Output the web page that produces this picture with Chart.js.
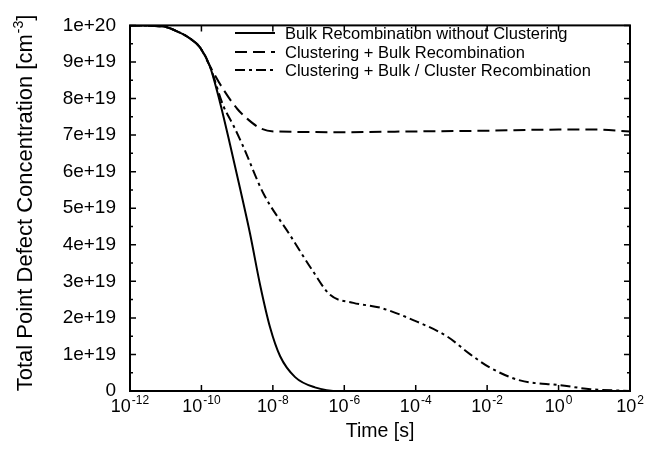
<!DOCTYPE html>
<html>
<head>
<meta charset="utf-8">
<script src="https://cdn.jsdelivr.net/npm/chart.js@4.4.1/dist/chart.umd.min.js"></script>
<style>
  html, body { margin: 0; padding: 0; background: #fff; }
  #wrap { width: 647px; height: 449px; position: relative; }
</style>
</head>
<body>
<div id="wrap"><canvas id="defect-chart"></canvas></div>
<script>
// time in seconds, concentration in cm^-3
const bulkTime = [1e-12, 8.3e-12, 2.5e-11, 4.8e-11, 9.1e-11, 1.7e-10, 3.3e-10, 6.3e-10, 1.2e-9, 2.3e-9, 4.4e-9, 8.3e-9, 1.6e-8, 4.2e-8, 1.5e-7, 7.6e-7, 1e-5, 1e2];
const bulkConc = [1e20, 9.97e19, 9.8e19, 9.64e19, 9.4e19, 8.9e19, 7.9e19, 6.75e19, 5.55e19, 4.3e19, 2.9e19, 1.75e19, 0.95e19, 0.38e19, 0.1e19, 0, 0, 0];

const clusterTime = [1e-12, 8.3e-12, 2.5e-11, 4.8e-11, 9.1e-11, 1.7e-10, 4.1e-10, 1.0e-9, 1.9e-9, 4.4e-9, 1.1e-8, 1e-6, 1e-4, 1e-2, 1, 1e1, 1e2];
const clusterConc = [1e20, 9.97e19, 9.8e19, 9.64e19, 9.4e19, 8.9e19, 8.25e19, 7.72e19, 7.45e19, 7.19e19, 7.1e19, 7.08e19, 7.1e19, 7.12e19, 7.15e19, 7.15e19, 7.1e19];

const cbTime = [1e-12, 8.3e-12, 2.5e-11, 4.8e-11, 9.1e-11, 1.7e-10, 4.1e-10, 7.8e-10, 1.4e-9, 5.4e-9, 3.0e-8, 1.3e-7, 4.0e-7, 1.8e-6, 1e-5, 8.5e-5, 7.6e-4, 3.3e-3, 1.2e-2, 8.3e-2, 1.1, 7.8, 1e2];
const cbConc = [1e20, 9.97e19, 9.8e19, 9.64e19, 9.4e19, 8.9e19, 7.8e19, 7.27e19, 6.74e19, 5.41e19, 4.27e19, 3.29e19, 2.63e19, 2.41e19, 2.28e19, 1.94e19, 1.49e19, 1.01e19, 0.64e19, 0.29e19, 0.16e19, 0.05e19, 0];

const seriesLabels = [
  "Bulk Recombination without Clustering",
  "Clustering + Bulk Recombination",
  "Clustering + Bulk / Cluster Recombination"
];

const xTickValues = [1e-12, 1e-10, 1e-8, 1e-6, 1e-4, 1e-2, 1, 1e2];
const xTickExps = ["-12", "-10", "-8", "-6", "-4", "-2", "0", "2"];

const FONT = "'Liberation Sans', Arial, Helvetica, sans-serif";

function toPoints(times, vals) {
  return times.map((t, i) => ({ x: t, y: vals[i] }));
}

// frame, inward ticks, x tick labels, axis titles and legend
const decorPlugin = {
  id: 'decor',
  afterDraw(chart) {
    const { ctx, chartArea: a } = chart;
    const x = chart.scales.x;
    const y = chart.scales.y;
    ctx.save();
    ctx.strokeStyle = '#000';
    ctx.fillStyle = '#000';

    ctx.lineWidth = 2;
    ctx.strokeRect(a.left, a.top, a.right - a.left, a.bottom - a.top);

    // y ticks, both sides
    ctx.lineWidth = 1.5;
    for (let k = 0; k <= 20; k++) {
      const py = y.getPixelForValue(k * 5e18);
      const len = k % 2 === 0 ? 6 : 3;
      ctx.beginPath();
      ctx.moveTo(a.left, py); ctx.lineTo(a.left + len, py);
      ctx.moveTo(a.right, py); ctx.lineTo(a.right - len, py);
      ctx.stroke();
    }

    // x ticks + labels
    xTickValues.forEach((v, i) => {
      const px = x.getPixelForValue(v);
      ctx.beginPath();
      ctx.moveTo(px, a.bottom); ctx.lineTo(px, a.bottom - 6);
      ctx.moveTo(px, a.top); ctx.lineTo(px, a.top + 6);
      ctx.stroke();

      ctx.font = '18px ' + FONT;
      const wBase = ctx.measureText('10').width;
      ctx.font = '12px ' + FONT;
      const wExp = ctx.measureText(xTickExps[i]).width;
      const start = px - (wBase + wExp + 1) / 2;
      ctx.textAlign = 'left';
      ctx.textBaseline = 'alphabetic';
      ctx.font = '18px ' + FONT;
      ctx.fillText('10', start, 412);
      ctx.font = '12px ' + FONT;
      ctx.fillText(xTickExps[i], start + wBase + 1, 404);
    });

    // x title
    ctx.font = '19.5px ' + FONT;
    ctx.textAlign = 'center';
    ctx.fillText('Time [s]', (a.left + a.right) / 2, 437);

    // y title with superscript
    const t1 = 'Total Point Defect Concentration [cm';
    const t2 = '-3';
    const t3 = ']';
    ctx.font = '22px ' + FONT;
    const w1 = ctx.measureText(t1).width;
    const w3 = ctx.measureText(t3).width;
    ctx.font = '14px ' + FONT;
    const w2 = ctx.measureText(t2).width;
    const total = w1 + w2 + w3 + 1;
    ctx.translate(32, 203);
    ctx.rotate(-Math.PI / 2);
    ctx.textAlign = 'left';
    ctx.font = '22px ' + FONT;
    ctx.fillText(t1, -total / 2, 0);
    ctx.font = '14px ' + FONT;
    ctx.fillText(t2, -total / 2 + w1 + 1, -9);
    ctx.font = '22px ' + FONT;
    ctx.fillText(t3, -total / 2 + w1 + w2 + 1, 0);
    ctx.setTransform(1, 0, 0, 1, 0, 0);

    // legend
    const rows = [33, 52, 70];
    chart.data.datasets.forEach((ds, i) => {
      ctx.lineWidth = 2;
      ctx.setLineDash(ds.borderDash || []);
      ctx.beginPath();
      ctx.moveTo(235, rows[i]);
      ctx.lineTo(275, rows[i]);
      ctx.stroke();
      ctx.setLineDash([]);
      ctx.font = '16.5px ' + FONT;
      ctx.textAlign = 'left';
      ctx.textBaseline = 'middle';
      ctx.fillText(ds.label, 285, rows[i] + 1);
    });

    ctx.restore();
  }
};

const ctx = document.getElementById('defect-chart').getContext('2d');

new Chart(ctx, {
  type: 'line',
  data: {
    datasets: [
      {
        label: seriesLabels[0],
        data: toPoints(bulkTime, bulkConc),
        borderColor: '#000',
        borderWidth: 2
      },
      {
        label: seriesLabels[1],
        data: toPoints(clusterTime, clusterConc),
        borderColor: '#000',
        borderWidth: 2,
        borderDash: [12, 6]
      },
      {
        label: seriesLabels[2],
        data: toPoints(cbTime, cbConc),
        borderColor: '#000',
        borderWidth: 2,
        borderDash: [10, 4, 3, 4]
      }
    ]
  },
  options: {
    responsive: true,
    maintainAspectRatio: false,
    animation: false,
    elements: {
      point: { radius: 0 },
      line: { cubicInterpolationMode: 'monotone', fill: false }
    },
    layout: { padding: { left: 0, right: 17, top: 14, bottom: 0 } },
    plugins: {
      legend: { display: false },
      tooltip: { enabled: false }
    },
    scales: {
      x: {
        type: 'logarithmic',
        min: 1e-12,
        max: 1e2,
        grid: { display: false, drawTicks: false },
        border: { display: false },
        ticks: { display: false },
        afterFit: (scale) => { scale.height = 58; }
      },
      y: {
        min: 0,
        max: 1e20,
        grid: { display: false, drawTicks: false },
        border: { display: false },
        ticks: {
          stepSize: 1e19,
          padding: 14,
          color: '#000',
          font: { family: FONT, size: 19 },
          callback: (v) => v === 0 ? '0' : Number(v).toExponential(0)
        },
        afterFit: (scale) => { scale.width = 130; }
      }
    }
  },
  plugins: [decorPlugin]
});
</script>
</body>
</html>
